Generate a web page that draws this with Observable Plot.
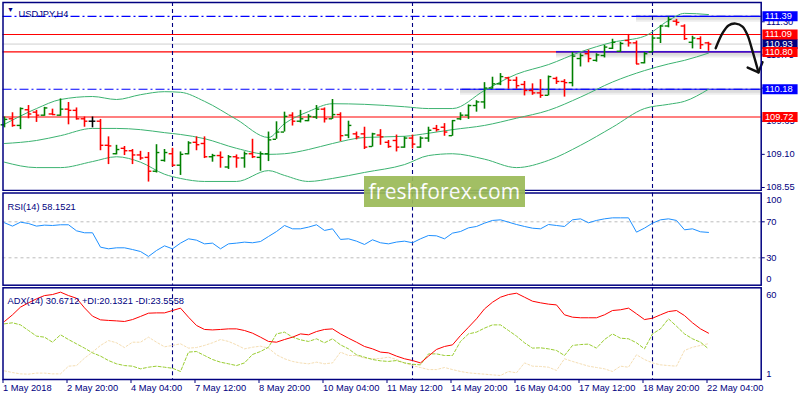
<!DOCTYPE html>
<html><head><meta charset="utf-8">
<script src="https://cdn.jsdelivr.net/npm/d3@7"></script>
<script src="https://cdn.jsdelivr.net/npm/@observablehq/plot@0.6"></script>
<style>
body{margin:0;background:#fff;}
#wrap{position:relative;width:800px;height:400px;overflow:hidden;background:#fff;}
.pane{position:absolute;left:0;}
#logo{position:absolute;left:364px;top:176px;width:161px;height:30.5px;background:#9bbb59;opacity:0.93;color:#fff;
font-family:"Open Sans",sans-serif;font-size:21px;line-height:30px;text-align:center;letter-spacing:0.2px;}
</style></head>
<body><div id="wrap"></div>
<script>
// ---- data ----
const timeLabels = ["1 May 2018","2 May 20:00","4 May 04:00","7 May 12:00","8 May 20:00","10 May 04:00","11 May 12:00","14 May 20:00","16 May 04:00","17 May 12:00","18 May 20:00","22 May 04:00"];
const open  = [109.59,109.69,109.58,109.84,109.80,109.75,109.77,109.75,109.85,109.83,109.69,109.65,109.65,109.25,109.11,109.20,109.16,109.09,109.05,108.82,109.00,109.11,108.92,109.11,109.30,109.28,109.06,109.08,108.89,109.06,109.04,109.11,109.05,109.11,109.35,109.47,109.75,109.65,109.66,109.72,109.85,109.69,109.76,109.42,109.44,109.44,109.23,109.42,109.30,109.33,109.22,109.37,109.22,109.37,109.53,109.55,109.41,109.69,109.75,109.91,109.97,110.20,110.27,110.37,110.33,110.26,110.16,110.12,110.08,110.36,110.31,110.29,110.69,110.77,110.66,110.74,110.86,110.81,110.99,110.95,110.62,110.80,111.03,111.23,111.31,111.23,110.96,111.02,110.95];
const high  = [109.72,109.79,109.87,109.91,109.83,109.88,109.85,110.02,109.96,109.87,109.72,109.72,109.68,109.39,109.25,109.23,109.18,109.15,109.13,109.26,109.18,109.20,109.14,109.31,109.39,109.39,109.10,109.14,109.08,109.09,109.14,109.35,109.14,109.47,109.64,109.80,109.79,109.83,109.76,109.91,109.87,110.01,109.79,109.65,109.47,109.55,109.45,109.51,109.33,109.42,109.39,109.42,109.39,109.55,109.58,109.61,109.66,109.79,109.92,109.99,110.29,110.38,110.44,110.38,110.38,110.31,110.27,110.34,110.40,110.38,110.34,110.79,110.77,110.83,110.77,110.91,111.01,110.96,111.09,110.98,110.79,111.07,111.24,111.38,111.34,111.25,111.06,111.05,110.96];
const low   = [109.54,109.55,109.51,109.69,109.63,109.73,109.75,109.73,109.59,109.67,109.55,109.54,109.16,108.93,109.09,109.08,108.93,109.00,108.64,108.79,108.97,108.89,108.75,109.09,109.16,109.03,108.97,108.87,108.85,108.87,108.87,109.03,108.82,108.98,109.35,109.47,109.57,109.62,109.64,109.68,109.62,109.68,109.31,109.36,109.34,109.18,109.22,109.25,109.20,109.14,109.20,109.19,109.20,109.30,109.47,109.40,109.40,109.66,109.68,109.80,109.85,110.18,110.24,110.18,110.18,110.07,110.08,110.03,110.07,110.26,110.05,110.22,110.55,110.62,110.63,110.70,110.84,110.79,110.88,110.59,110.60,110.79,110.94,111.20,111.23,110.99,110.85,110.84,110.81];
const close = [109.68,109.58,109.86,109.77,109.75,109.87,109.76,109.85,109.83,109.69,109.65,109.65,109.25,109.24,109.18,109.16,109.09,109.04,108.82,109.13,109.13,108.92,109.10,109.29,109.26,109.06,109.08,109.05,109.06,109.04,109.11,109.06,109.11,109.34,109.47,109.73,109.65,109.69,109.73,109.85,109.69,109.76,109.41,109.58,109.39,109.22,109.44,109.39,109.23,109.22,109.37,109.27,109.37,109.50,109.51,109.47,109.66,109.75,109.91,109.97,110.20,110.27,110.39,110.33,110.24,110.16,110.12,110.08,110.39,110.31,110.29,110.73,110.74,110.69,110.75,110.88,110.96,110.94,110.95,110.60,110.77,111.03,111.23,111.34,111.29,111.02,111.03,110.92,110.93];

const bbIdx   = [0,4,7,11,14,17,20,22,25,29,33,35,38,41,45,50,53,56,60,64,68,72,76,80,83,85,88];
const bbUpper = [109.60,109.86,110.01,110.06,110.01,110.09,110.14,110.13,109.98,109.68,109.38,109.61,109.81,109.94,109.93,109.89,109.86,109.86,110.16,110.43,110.59,110.80,110.96,111.06,111.32,111.44,111.42];
const bbMid   = [109.28,109.33,109.41,109.53,109.53,109.51,109.46,109.43,109.36,109.20,109.10,109.11,109.18,109.28,109.38,109.40,109.45,109.51,109.58,109.70,109.83,110.05,110.30,110.49,110.60,110.66,110.78];
const bbLower = [108.97,108.88,108.88,108.98,109.06,108.97,108.77,108.70,108.65,108.65,108.83,108.75,108.65,108.70,108.80,108.93,109.08,109.11,109.02,108.88,109.00,109.25,109.55,109.86,109.93,109.98,110.18];

const rsi = [68.9,65.2,69.6,68.1,65.2,66.3,65.9,66.7,66.7,60.0,57.8,57.8,41.8,40.0,41.1,41.1,39.2,37.0,31.5,38.1,43.3,40.0,46.3,51.1,49.6,45.5,46.3,40.0,45.5,46.3,47.4,46.7,48.1,53.7,59.2,65.9,62.2,62.2,64.1,66.7,60.4,62.2,50.4,51.1,48.5,44.8,50.0,46.7,45.5,47.5,48.5,46.7,51.1,54.8,54.4,51.1,57.4,59.2,63.3,64.8,68.5,71.5,72.2,69.6,67.0,64.8,62.9,62.2,67.0,65.9,64.8,72.2,73.3,68.9,71.5,73.3,74.4,74.4,74.4,58.5,63.0,68.5,72.2,73.3,71.5,61.1,62.2,58.9,58.2];
const adx = [38.6,43.1,48.3,51.2,53.9,56.1,56.8,58.4,56.1,54.3,47.8,42.2,39.7,39.3,39.0,38.6,39.9,42.0,44.2,44.4,44.4,46.0,47.6,41.5,35.9,33.2,32.9,33.2,33.6,33.6,32.5,30.7,28.0,25.1,24.6,26.4,28.0,30.2,29.6,31.8,33.2,33.6,30.2,27.3,24.6,21.7,20.1,17.9,17.4,15.2,13.4,12.2,10.6,15.2,19.7,21.7,22.8,29.1,34.7,40.4,47.1,51.6,55.0,56.8,57.7,55.0,52.3,51.2,50.3,49.8,43.1,41.5,41.1,41.1,41.1,43.1,46.0,46.5,47.6,43.8,39.9,40.8,43.1,45.3,46.0,42.6,37.7,33.6,30.7];
const plusDI = [37.0,37.7,36.3,32.5,28.7,28.0,24.6,29.6,26.4,23.5,20.6,17.4,15.2,12.2,10.0,8.8,8.4,6.6,7.7,8.4,7.7,7.0,4.8,17.9,18.3,15.6,12.9,11.1,10.0,8.8,10.6,16.3,18.3,21.2,30.2,31.4,28.0,26.2,25.1,26.9,24.2,26.9,22.8,20.1,16.1,14.5,12.9,12.0,11.6,12.2,10.6,9.7,9.3,16.7,16.7,15.6,15.6,25.1,30.2,31.4,34.1,36.3,36.3,32.5,28.7,24.2,20.6,20.8,20.1,19.0,15.6,22.4,23.0,23.3,20.6,26.4,30.2,27.3,26.9,24.2,20.1,30.2,33.6,40.4,35.4,30.2,26.9,24.6,20.1];
const minusDI = [5.2,4.1,3.2,3.0,3.7,3.7,3.2,3.2,8.4,8.8,13.8,17.9,22.4,25.7,24.2,21.0,24.6,24.6,28.0,24.6,21.5,22.4,23.5,20.6,21.0,22.4,24.2,26.4,25.1,22.8,20.1,21.2,21.9,20.6,16.1,13.4,11.6,10.6,10.0,11.1,10.0,10.6,17.9,15.6,15.6,13.8,13.4,13.6,14.5,12.9,10.6,8.8,7.5,6.1,6.1,7.5,6.1,4.8,3.9,3.4,3.0,2.5,2.1,4.8,3.9,10.6,8.4,8.2,7.7,5.5,13.4,11.6,10.0,8.4,7.5,6.6,4.8,8.4,7.7,16.1,12.9,10.6,9.3,8.8,8.4,19.0,21.2,22.4,23.6];

const priceTicks = [108.55,109.10,109.65,110.20,110.75,111.30];
const hiddenTickLabels = [110.20];
const redLevels = [111.09,110.80,109.72];
const dashLevels = [111.39,110.18];
const solidBlue = [{v:111.39,from:79},{v:110.18,from:57},{v:110.80,from:69}];
const bidLevel = 110.93;
const priceTags = [{v:110.93,c:"#000080"},{v:111.39,c:"#0000ff"},{v:111.09,c:"#ff0000"},{v:110.80,c:"#ff0000"},{v:110.18,c:"#0000ff"},{v:109.72,c:"#ff0000"}];
const separators = [21,51,81];
const arrowIdx = [88.9,89.75,90.5,91.4,92.25,92.9,93.4,93.9,94.25];
const arrowPx  = [110.86,111.11,111.24,111.27,111.22,111.07,110.86,110.63,110.46];
const headIdx = [92.9,94.25,94.75];
const headPx  = [110.54,110.46,110.63];

// ---- build ----
const NAVY = "#000080";
const FONT = {fontFamily:"'Liberation Sans', Arial, sans-serif", fontSize:"9.3px", background:"white", overflow:"visible"};
const N = close.length;
const bars = close.map((c,i)=>({i, o:open[i], h:high[i], l:low[i], c, col: c>open[i] ? "#008000" : (c<open[i] ? "#ff0000" : "#000000")}));
const band = (arr)=>bbIdx.map((k,j)=>({i:k, v:arr[j]}));
const ser = (arr)=>arr.map((v,i)=>({i, v}));
const xRight = 94.6, tagX1 = 94.8, tagX2 = 99.2;
const xScale = {type:"linear", domain:[0, N-1], range:[4, 708], axis:null};
const sepMark = Plot.ruleX(separators, {stroke:NAVY, strokeWidth:1.1, strokeDasharray:"4,3"});

const main = Plot.plot({
  width:800, height:191, marginTop:2, marginBottom:1, marginLeft:2.5, marginRight:39.3,
  x: xScale,
  y: {type:"linear", domain:[108.50, 111.62], range:[190, 2], axis:null},
  color: {type:"identity"},
  style: FONT,
  marks: [
    Plot.ruleY([bidLevel], {stroke:"#cfcfcf", strokeWidth:1}),
    Plot.ruleY(dashLevels, {stroke:"#0000ff", strokeWidth:1.1, strokeDasharray:"9,3,2,3"}),
    Plot.ruleY(redLevels, {stroke:"#ff0000", strokeWidth:1.1}),
    Plot.ruleY(solidBlue, {y:"v", x1:"from", x2:xRight, stroke:"#000", strokeOpacity:0.07, strokeWidth:7, dy:2}),
    Plot.ruleY(solidBlue, {y:"v", x1:"from", x2:xRight, stroke:"#000", strokeOpacity:0.07, strokeWidth:3, dy:2}),
    Plot.ruleY(solidBlue, {y:"v", x1:"from", x2:xRight, stroke:"#0000ff", strokeWidth:1.2}),
    sepMark,
    Plot.line(band(bbUpper), {x:"i", y:"v", stroke:"#3cb371", strokeWidth:1, curve:"monotone-x"}),
    Plot.line(band(bbMid), {x:"i", y:"v", stroke:"#3cb371", strokeWidth:1, curve:"monotone-x"}),
    Plot.line(band(bbLower), {x:"i", y:"v", stroke:"#3cb371", strokeWidth:1, curve:"monotone-x"}),
    Plot.ruleX(bars, {x:"i", y1:"l", y2:"h", stroke:"col", strokeWidth:1.6}),
    Plot.ruleY(bars, {y:"o", x1:d=>d.i-0.42, x2:"i", stroke:"col", strokeWidth:1.4}),
    Plot.ruleY(bars, {y:"c", x1:"i", x2:d=>d.i+0.42, stroke:"col", strokeWidth:1.4}),
    Plot.line(arrowIdx.map((k,j)=>({i:k, v:arrowPx[j]})), {x:"i", y:"v", stroke:"#111", strokeWidth:2.4, curve:"catmull-rom"}),
    Plot.line(headIdx.map((k,j)=>({i:k, v:headPx[j]})), {x:"i", y:"v", stroke:"#111", strokeWidth:2.4, strokeLinejoin:"round"}),
    Plot.axisY({ticks:priceTicks, anchor:"right", label:null, tickSize:3, tickPadding:2, color:NAVY,
      tickFormat:d=>hiddenTickLabels.includes(d) ? "" : d.toFixed(2)}),
    Plot.ruleY(priceTags, {y:"v", x1:tagX1, x2:tagX2, stroke:"c", strokeWidth:10}),
    Plot.text(priceTags, {y:"v", x:tagX1, text:d=>d.v.toFixed(2), fill:"white", textAnchor:"start", dx:2}),
    Plot.text(["\u25BC"], {frameAnchor:"top-left", dx:4, dy:5, fill:NAVY, fontSize:7, textAnchor:"start"}),
    Plot.text(["USDJPY,H4"], {frameAnchor:"top-left", dx:15.5, dy:8, fill:NAVY, textAnchor:"start"}),
    Plot.frame({stroke:NAVY, strokeWidth:1.5})
  ]
});

const rsiPlot = Plot.plot({
  width:800, height:96, marginTop:1.5, marginBottom:2.3, marginLeft:2.5, marginRight:39.3,
  x: xScale,
  y: {type:"linear", domain:[0,100], range:[93.3, 3.3], axis:null},
  style: FONT,
  marks: [
    Plot.ruleY([30,70], {stroke:"#bdbdbd", strokeDasharray:"3,3"}),
    sepMark,
    Plot.line(ser(rsi), {x:"i", y:"v", stroke:"#1e90ff", strokeWidth:1}),
    Plot.axisY({ticks:[30,70], anchor:"right", label:null, tickSize:3, tickPadding:2, color:NAVY}),
    Plot.text([100], {y:d=>d, frameAnchor:"right", dx:5, dy:5, text:d=>String(d), fill:NAVY, textAnchor:"start"}),
    Plot.text([0], {y:d=>d, frameAnchor:"right", dx:5, dy:-6, text:d=>String(d), fill:NAVY, textAnchor:"start"}),
    Plot.text(["RSI(14) 58.1521"], {frameAnchor:"top-left", dx:4.5, dy:10.5, fill:NAVY, textAnchor:"start"}),
    Plot.frame({stroke:NAVY, strokeWidth:1.5})
  ]
});

const tickIdx = timeLabels.map((_,k)=>k*8);
const adxPlot = Plot.plot({
  width:800, height:113, marginTop:0.3, marginBottom:21, marginLeft:2.5, marginRight:39.3,
  x: xScale,
  y: {type:"linear", domain:[0,60], range:[91.1, 2.3], axis:null},
  style: FONT,
  marks: [
    sepMark,
    Plot.line(ser(minusDI), {x:"i", y:"v", stroke:"#f5deb3", strokeWidth:1, strokeDasharray:"2,2"}),
    Plot.line(ser(plusDI), {x:"i", y:"v", stroke:"#9acd32", strokeWidth:1, strokeDasharray:"3,2"}),
    Plot.line(ser(adx), {x:"i", y:"v", stroke:"#ff0000", strokeWidth:1}),
    Plot.text([60], {y:d=>d, frameAnchor:"right", dx:5, dy:5, text:d=>String(d), fill:NAVY, textAnchor:"start"}),
    Plot.text([1], {y:d=>d, frameAnchor:"right", dx:5, dy:-3.5, text:d=>String(d), fill:NAVY, textAnchor:"start"}),
    Plot.axisX({ticks:tickIdx, anchor:"bottom", label:null, tickSize:4, tickPadding:1, color:NAVY, textAnchor:"start", dx:-1.5, tickFormat:d=>timeLabels[d/8]}),
    Plot.text(["ADX(14) 30.6712 +DI:20.1321 -DI:23.5558"], {frameAnchor:"top-left", dx:4.5, dy:10, fill:NAVY, textAnchor:"start"}),
    Plot.frame({stroke:NAVY, strokeWidth:1.5})
  ]
});

const wrap = document.getElementById("wrap");
[[main,0],[rsiPlot,191],[adxPlot,287]].forEach(([el,top])=>{
  const d = document.createElement("div"); d.className="pane"; d.style.top = top+"px";
  d.appendChild(el); wrap.appendChild(d);
});
const logo = document.createElement("div"); logo.id="logo"; logo.textContent="freshforex.com";
wrap.appendChild(logo);
</script>
</body></html>
